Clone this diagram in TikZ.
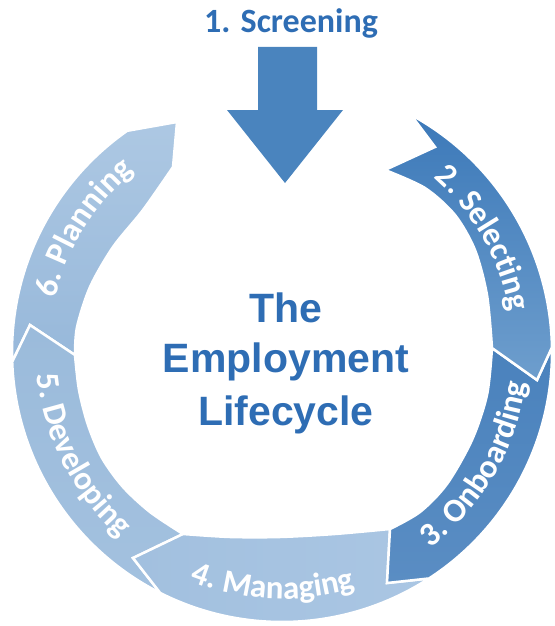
\documentclass[tikz,border=0pt]{standalone}
\usepackage{fontspec}
\setmainfont{Carlito}
\newfontfamily\arialfont{Liberation Sans}
\usetikzlibrary{calc,decorations.text}
\definecolor{txtblue}{HTML}{2E6DB4}
\definecolor{scrfill}{HTML}{4A84BE}
\definecolor{selA}{HTML}{3C79B9}
\definecolor{selB}{HTML}{6E9ECD}
\definecolor{onbA}{HTML}{4A82BD}
\definecolor{onbB}{HTML}{5A8DC3}
\definecolor{manA}{HTML}{A2C0DF}
\definecolor{manB}{HTML}{AAC6E3}
\definecolor{devA}{HTML}{9BBBDB}
\definecolor{devB}{HTML}{A3C1DF}
\definecolor{plaA}{HTML}{ADC8E3}
\definecolor{plaB}{HTML}{97B8DA}
\newcommand\lblfont{\fontsize{33}{33}\selectfont\bfseries}
\tikzset{
  seg/.style={draw=white, line width=2.5pt, line join=miter},
  midtitle/.style={font=\arialfont\bfseries\fontsize{41}{50}\selectfont, text=txtblue, anchor=base, inner sep=0pt}
}
\begin{document}
\begin{tikzpicture}[x=1pt,y=1pt]
\useasboundingbox (0,0) rectangle (554,-626);
\coordinate (O) at (282,-352);

% 6. Planning
\shade[seg, top color=plaA, bottom color=plaB]
  ($(O)+(182.1:270)$) arc[start angle=182.1, end angle=125, radius=270]
  -- (177,-122) -- (173,-167)
  -- plot[smooth] coordinates {(173,-167) (143,-210) (113,-247) (90,-287) (77,-327) (75,-355)}
  -- (30,-325) -- cycle;
% 5. Developing
\shade[seg, top color=devA, bottom color=devB]
  ($(O)+(-116.8:270)$) arc[start angle=-116.8, end angle=-177.9, radius=270]
  -- (30,-325) -- (75,-355)
  -- plot[smooth] coordinates {(75,-355) (79,-390) (88,-425) (102,-458) (123,-487) (150,-512) (183,-534)}
  -- (133,-558) -- cycle;
% 4. Managing
\shade[seg, left color=manA, right color=manB]
  ($(O)+(-57:270)$) arc[start angle=-57, end angle=-116.8, radius=270]
  -- (133,-558) -- (183,-534)
  -- plot[smooth] coordinates {(183,-534) (230,-537) (280,-537) (335,-534) (390,-529)}
  -- (387,-583) -- cycle;
% 3. Onboarding
\shade[seg, top color=onbA, bottom color=onbB]
  ($(O)+(1:270)$) arc[start angle=1, end angle=-57, radius=270]
  -- (387,-583) -- (390,-529)
  -- plot[smooth] coordinates {(390,-529) (420,-512) (447,-484) (472,-440) (487,-395) (492,-348)}
  -- (537,-380) -- cycle;
% 2. Selecting
\shade[seg, top color=selA, bottom color=selB]
  ($(O)+(61.5:270)$) arc[start angle=61.5, end angle=1, radius=270]
  -- (537,-380) -- (492,-348)
  -- plot[smooth] coordinates {(492,-348) (487,-295) (475,-250) (455,-215) (425,-188) (385,-170)}
  -- (435,-147) -- cycle;

% 1. Screening arrow
\fill[scrfill] (258,-47) -- (317,-47) -- (317,-110) -- (343,-110) -- (285,-183) -- (227,-110) -- (258,-110) -- cycle;
\node[font=\fontsize{34}{40}\selectfont\bfseries, text=txtblue, anchor=base, inner sep=0pt] (scr) at (291,-33) {1. Screening};

% arc labels
\path[decorate, decoration={text along path, text align=center, text color=white, text={|\lblfont|2. Selecting}}]
  ($(O)+(75:231)$) arc[start angle=75, end angle=-16, radius=231];
\path[decorate, decoration={text along path, text align=center, text color=white, text={|\lblfont|3. Onboarding}}]
  ($(O)+(-75:246)$) arc[start angle=-75, end angle=15, radius=246];
\path[decorate, decoration={text along path, text align=center, text color=white, text={|\lblfont|4. Managing}}]
  ($(O)+(-137.3:247)$) arc[start angle=-137.3, end angle=-47.3, radius=247];
\path[decorate, decoration={text along path, text align=center, text color=white, text={|\lblfont|5. Developing}}]
  ($(O)+(162.1:246)$) arc[start angle=162.1, end angle=252.1, radius=246];
\path[decorate, decoration={text along path, text align=center, text color=white, text={|\lblfont|6. Planning}}]
  ($(O)+(193:233)$) arc[start angle=193, end angle=103, radius=233];

% centre title
\node[midtitle] (t1) at (286,-322) {The};
\node[midtitle] (t2) at (286,-372) {Employment};
\node[midtitle] (t3) at (286,-425) {Lifecycle};
\end{tikzpicture}
\end{document}
